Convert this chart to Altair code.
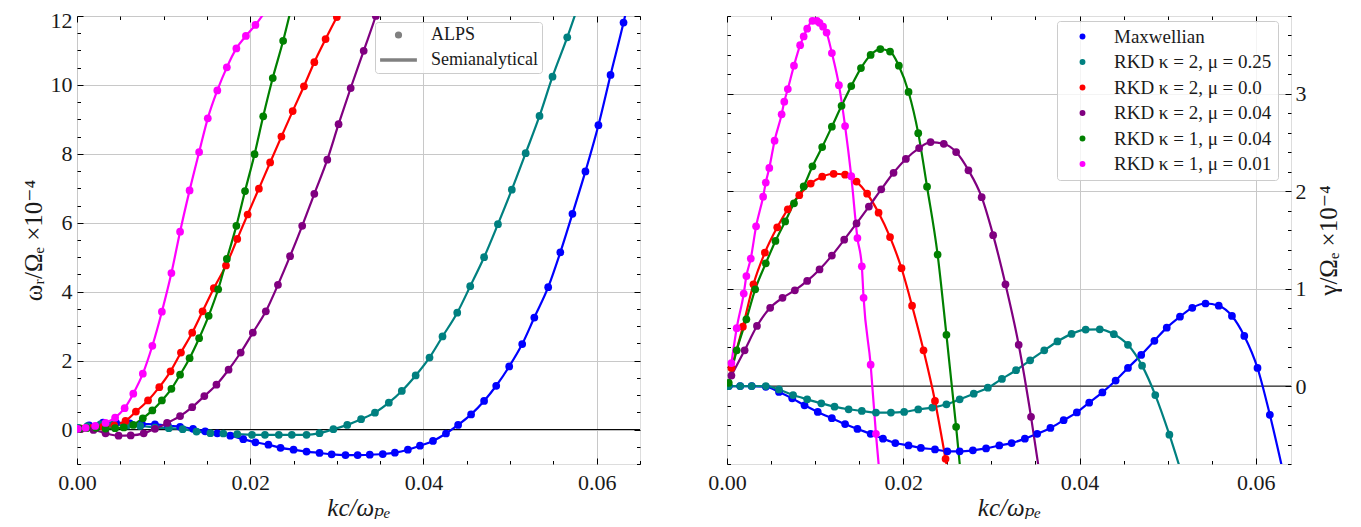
import altair as alt
import pandas as pd

SERIES = ["Maxwellian", "RKD κ = 2, μ = 0.25", "RKD κ = 2, μ = 0.0",
          "RKD κ = 2, μ = 0.04", "RKD κ = 1, μ = 0.04", "RKD κ = 1, μ = 0.01"]
COLORS = ["#0000ff", "#008080", "#ff0000", "#800080", "#008000", "#ff00ff"]
LEGEND_KINDS = ["ALPS", "Semianalytical"]

# ---------------- left panel: omega_r / Omega_e (x 1e-4) ----------------
W_K_MAX = [0.0001, 0.0014, 0.0030, 0.0045, 0.0061, 0.0075, 0.0090, 0.0105, 0.0119, 0.0134,
           0.0148, 0.0162, 0.0177, 0.0192, 0.0206, 0.0221, 0.0235, 0.0250, 0.0265, 0.0280,
           0.0294, 0.0310, 0.0324, 0.0338, 0.0353, 0.0367, 0.0382, 0.0396, 0.0411, 0.0426,
           0.0440, 0.0455, 0.0470, 0.0484, 0.0499, 0.0514, 0.0528, 0.0544, 0.0558, 0.0572,
           0.0587, 0.0602, 0.0616, 0.0631, 0.0645]
W_MAX = [0.02, 0.12, 0.20, 0.20, 0.18, 0.16, 0.15, 0.11, 0.08, 0.02,
         -0.05, -0.11, -0.18, -0.28, -0.37, -0.44, -0.53, -0.585, -0.64, -0.68,
         -0.72, -0.74, -0.74, -0.73, -0.71, -0.67, -0.585, -0.47, -0.33, -0.115,
         0.135, 0.44, 0.83, 1.27, 1.83, 2.48, 3.25, 4.13, 5.14, 6.26,
         7.49, 8.83, 10.29, 11.81, 13.4]

W_K_T = [0.0002, 0.0012, 0.0027, 0.0042, 0.0058, 0.0073, 0.0090, 0.0106, 0.0122, 0.0138,
         0.0154, 0.0169, 0.0185, 0.0202, 0.0217, 0.0233, 0.0248, 0.0265, 0.0280, 0.0296,
         0.0312, 0.0328, 0.0344, 0.0360, 0.0375, 0.0391, 0.0407, 0.0422, 0.0439, 0.0454,
         0.0470, 0.0486, 0.0502, 0.0518, 0.0534, 0.0549, 0.0566, 0.0582]
W_T = [0.05, 0.10, 0.15, 0.14, 0.12, 0.105, 0.058, 0.038, 0.01, -0.058,
       -0.105, -0.115, -0.134, -0.153, -0.153, -0.153, -0.153, -0.153, -0.105, 0.01,
       0.135, 0.30, 0.49, 0.78, 1.12, 1.57, 2.09, 2.70, 3.39, 4.16,
       5.00, 5.96, 6.96, 8.02, 9.10, 10.24, 11.38, 12.55]

W_K_R = [0.0005, 0.0018, 0.0030, 0.0043, 0.0056, 0.0068, 0.0082, 0.0095, 0.0108, 0.0120,
         0.0133, 0.0145, 0.0158, 0.0172, 0.0185, 0.0197, 0.0210, 0.0223, 0.0236, 0.0249,
         0.0262, 0.0274, 0.0287, 0.0300, 0.0313]
W_R = [0.03, 0.05, 0.08, 0.12, 0.25, 0.52, 0.845, 1.23, 1.69, 2.235,
       2.81, 3.43, 4.10, 4.76, 5.53, 6.24, 6.99, 7.75, 8.50, 9.24,
       9.96, 10.66, 11.33, 11.97, 12.6]

W_K_P = [0.0004, 0.0019, 0.0033, 0.0048, 0.0062, 0.0077, 0.0090, 0.0104, 0.0119, 0.0133,
         0.0147, 0.0161, 0.0175, 0.0189, 0.0203, 0.0218, 0.0232, 0.0246, 0.0260, 0.0274,
         0.0289, 0.0302, 0.0316, 0.0331, 0.0345, 0.0359]
W_P = [0.01, -0.01, -0.11, -0.18, -0.17, -0.11, 0.02, 0.19, 0.39, 0.65,
       0.97, 1.30, 1.735, 2.235, 2.81, 3.43, 4.20, 5.03, 5.91, 6.84,
       7.83, 8.86, 9.91, 10.99, 12.0, 13.1]

W_K_G = [0.0003, 0.0011, 0.0022, 0.0033, 0.0044, 0.0054, 0.0065, 0.0076, 0.0087, 0.0098,
         0.0109, 0.0119, 0.0130, 0.0141, 0.0152, 0.0163, 0.0173, 0.0184, 0.0194, 0.0205,
         0.0215, 0.0226, 0.0238, 0.0248]
W_G = [0.02, 0.04, 0.05, 0.03, 0.04, 0.06, 0.135, 0.325, 0.555, 0.845,
       1.18, 1.59, 2.07, 2.65, 3.30, 4.07, 4.95, 5.91, 6.92, 7.99,
       9.09, 10.2, 11.28, 12.3]

W_K_M = [0.0001, 0.0010, 0.0021, 0.0033, 0.0044, 0.0055, 0.0065, 0.0076, 0.0087, 0.0098,
         0.0109, 0.0119, 0.0130, 0.0141, 0.0151, 0.0162, 0.0173, 0.0184, 0.0195, 0.0206,
         0.0227]
W_M = [0.02, 0.05, 0.106, 0.19, 0.345, 0.62, 1.04, 1.62, 2.43, 3.42,
       4.54, 5.74, 6.94, 8.05, 9.03, 9.84, 10.51, 11.06, 11.42, 11.74,
       12.5]

# ---------------- right panel: gamma / Omega_e (x 1e-4) ----------------
G_K_MAX = [0.0002, 0.0015, 0.0028, 0.0044, 0.0059, 0.0074, 0.0088, 0.0103, 0.0119, 0.0134,
           0.0148, 0.0163, 0.0177, 0.0191, 0.0206, 0.0220, 0.0236, 0.0250, 0.0264, 0.0279,
           0.0294, 0.0309, 0.0323, 0.0338, 0.0352, 0.0367, 0.0382, 0.0397, 0.0411, 0.0426,
           0.0441, 0.0455, 0.0470, 0.0485, 0.0499, 0.0514, 0.0528, 0.0543, 0.0558, 0.0573,
           0.0587, 0.0602, 0.0616, 0.0631]
G_MAX = [0.0, 0.0, 0.0, -0.007, -0.06, -0.126, -0.197, -0.265, -0.33, -0.39,
         -0.44, -0.49, -0.54, -0.585, -0.61, -0.635, -0.65, -0.67, -0.67, -0.66,
         -0.64, -0.61, -0.585, -0.54, -0.49, -0.43, -0.35, -0.27, -0.17, -0.065,
         0.057, 0.186, 0.32, 0.465, 0.60, 0.713, 0.804, 0.848, 0.825, 0.72,
         0.515, 0.186, -0.295, -0.88]

G_K_T = [0.0002, 0.0015, 0.0028, 0.0044, 0.0059, 0.0075, 0.0091, 0.0107, 0.0122, 0.0138,
         0.0153, 0.0169, 0.0186, 0.0201, 0.0217, 0.0233, 0.0249, 0.0264, 0.0280, 0.0296,
         0.0312, 0.0328, 0.0344, 0.0360, 0.0375, 0.0391, 0.0407, 0.0423, 0.0439, 0.0455,
         0.0471, 0.0486, 0.0502, 0.0516]
G_T = [0.0, 0.0, 0.0, 0.0, -0.035, -0.092, -0.136, -0.177, -0.211, -0.238,
       -0.255, -0.272, -0.272, -0.265, -0.24, -0.221, -0.187, -0.136, -0.078, -0.017,
       0.074, 0.163, 0.265, 0.367, 0.458, 0.536, 0.58, 0.583, 0.533, 0.424,
       0.21, -0.092, -0.499, -0.9]

G_K_R = [0.0005, 0.0018, 0.0030, 0.0043, 0.0057, 0.0069, 0.0082, 0.0095, 0.0108, 0.0121,
         0.0134, 0.0147, 0.0159, 0.0172, 0.0185, 0.0198, 0.0210, 0.0223, 0.0236, 0.0248,
         0.0261]
G_R = [0.186, 0.61, 1.045, 1.37, 1.63, 1.815, 1.96, 2.08, 2.15, 2.18,
       2.17, 2.10, 1.975, 1.78, 1.53, 1.21, 0.825, 0.367, -0.153, -0.747,
       -1.4]

G_K_P = [0.0005, 0.0020, 0.0034, 0.0049, 0.0063, 0.0077, 0.0091, 0.0105, 0.0119, 0.0133,
         0.0147, 0.0161, 0.0175, 0.0189, 0.0203, 0.0218, 0.0231, 0.0246, 0.0260, 0.0274,
         0.0289, 0.0302, 0.0316, 0.0331, 0.0345, 0.0358]
G_P = [0.108, 0.367, 0.617, 0.804, 0.906, 0.984, 1.08, 1.198, 1.34, 1.503,
       1.67, 1.843, 2.02, 2.19, 2.332, 2.444, 2.505, 2.488, 2.403, 2.216,
       1.94, 1.55, 1.045, 0.424, -0.316, -1.1]

G_K_G = [0.0002, 0.0011, 0.0022, 0.0032, 0.0044, 0.0055, 0.0066, 0.0076, 0.0087, 0.0097,
         0.0108, 0.0119, 0.0130, 0.0141, 0.0152, 0.0163, 0.0174, 0.0185, 0.0195, 0.0206,
         0.0217, 0.0227, 0.0239, 0.0249, 0.0260, 0.0270]
G_G = [0.034, 0.367, 0.685, 0.994, 1.26, 1.49, 1.69, 1.877, 2.05, 2.257,
       2.454, 2.664, 2.878, 3.08, 3.265, 3.40, 3.46, 3.435, 3.29, 3.02,
       2.597, 2.047, 1.35, 0.526, -0.418, -1.35]

G_K_M = [0.0005, 0.0011, 0.0019, 0.0022, 0.0027, 0.0033, 0.0041, 0.0044, 0.0048, 0.0054,
         0.0062, 0.0065, 0.0069, 0.0076, 0.0083, 0.0087, 0.0091, 0.0097, 0.0102, 0.0105,
         0.0109, 0.0113, 0.0119, 0.0127, 0.0134, 0.0141, 0.0148, 0.0153, 0.0155, 0.0163,
         0.0169, 0.0175]
G_M = [0.237, 0.594, 0.95, 1.13, 1.31, 1.64, 1.945, 2.09, 2.24, 2.52,
       2.79, 2.92, 3.05, 3.29, 3.50, 3.59, 3.67, 3.75, 3.75, 3.73,
       3.69, 3.63, 3.42, 3.09, 2.67, 2.155, 1.52, 1.23, 0.906, 0.22,
       -0.49, -1.1]

# axis domains and tick values
XL_DOMAIN = [0, 0.065]
YL_DOMAIN = [-1, 12]
XR_DOMAIN = [0, 0.064]
YR_DOMAIN = [-0.8, 3.8]
X_MAJOR = [0.0, 0.02, 0.04, 0.06]
X_MINOR = [0.005, 0.01, 0.015, 0.025, 0.03, 0.035, 0.045, 0.05, 0.055, 0.065]
YL_MAJOR = [0, 2, 4, 6, 8, 10, 12]
YL_MINOR = [-1, -0.5, 0.5, 1, 1.5, 2.5, 3, 3.5, 4.5, 5, 5.5, 6.5, 7, 7.5, 8.5, 9, 9.5,
            10.5, 11, 11.5]
YR_MAJOR = [0, 1, 2, 3]
YR_MINOR = [-0.8, -0.6, -0.4, -0.2, 0.2, 0.4, 0.6, 0.8, 1.2, 1.4, 1.6, 1.8, 2.2, 2.4,
            2.6, 2.8, 3.2, 3.4, 3.6, 3.8]


def frame(groups):
    rows = []
    for name, ks, vs in groups:
        for k, v in zip(ks, vs):
            rows.append({"series": name, "k": k, "v": v})
    return pd.DataFrame(rows)


left_df = frame([(SERIES[0], W_K_MAX, W_MAX), (SERIES[1], W_K_T, W_T), (SERIES[2], W_K_R, W_R),
                 (SERIES[3], W_K_P, W_P), (SERIES[4], W_K_G, W_G), (SERIES[5], W_K_M, W_M)])
right_df = frame([(SERIES[0], G_K_MAX, G_MAX), (SERIES[1], G_K_T, G_T), (SERIES[2], G_K_R, G_R),
                  (SERIES[3], G_K_P, G_P), (SERIES[4], G_K_G, G_G), (SERIES[5], G_K_M, G_M)])

FONT = "Liberation Serif, DejaVu Serif, serif"
TXT = "#1a1a1a"
GRID = "#c8c8c8"
MAJ, MIN = 6, 3.5
H = 448

anchor = pd.DataFrame({"k": [0.0], "v": [0.0]})


def tick_layer(channel, orient, values, length, xs, ys):
    ax = alt.Axis(orient=orient, values=values, tickSize=length, offset=-length, ticks=True,
                  labels=False, domain=False, grid=False, title=None, tickColor="black",
                  tickWidth=1)
    if channel == "x":
        enc = {"x": alt.X("k:Q", scale=xs, axis=ax), "y": alt.Y("v:Q", scale=ys, axis=None)}
    else:
        enc = {"x": alt.X("k:Q", scale=xs, axis=None), "y": alt.Y("v:Q", scale=ys, axis=ax)}
    return alt.Chart(anchor).mark_point(opacity=0).encode(**enc)


def panel(df, xdom, ydom, y_major, y_minor, y_orient, y_title, y_label_pad, y_title_pad,
          legend, extra, width):
    xs = alt.Scale(domain=xdom, nice=False, zero=False)
    ys = alt.Scale(domain=ydom, nice=False, zero=False)
    xaxis = alt.Axis(orient="bottom", values=X_MAJOR, format=".2f", ticks=False, tickSize=0,
                     domain=False, grid=True, gridColor=GRID, gridWidth=1, labelFlush=False,
                     labelFont=FONT, labelFontSize=22, labelColor=TXT, labelPadding=8,
                     title="kc/ωₚₑ", titleFont=FONT, titleFontSize=25, titleFontStyle="italic",
                     titleFontWeight="normal", titleColor=TXT, titlePadding=2)
    ykw = dict(orient=y_orient, values=y_major, format="d", ticks=False, tickSize=0,
               domain=False, grid=True, gridColor=GRID, gridWidth=1,
               labelFlush=True, labelFlushOffset=6,
               labelFont=FONT, labelFontSize=22, labelColor=TXT, labelPadding=y_label_pad,
               title=y_title, titleFont=FONT, titleFontSize=25, titleFontWeight="normal",
               titleColor=TXT, titlePadding=y_title_pad, titleAngle=270)
    if y_orient == "right":
        ykw["titleBaseline"] = "top"
    yaxis = alt.Axis(**ykw)

    zero = alt.Chart(anchor).mark_rule(color="black", strokeWidth=1).encode(
        x=alt.XDatum(xdom[0], scale=xs, axis=None),
        x2=alt.X2Datum(xdom[1]),
        y=alt.YDatum(0, scale=ys, axis=None))
    # one line layer per series (constant colour), the first one carries the labelled axes
    lines = []
    for i, (name, col) in enumerate(zip(SERIES, COLORS)):
        sub = df[df["series"] == name]
        lines.append(alt.Chart(sub).mark_line(
            color=col, strokeWidth=2.2, interpolate="monotone", clip=True).encode(
            x=alt.X("k:Q", scale=xs, axis=xaxis if i == 0 else None),
            y=alt.Y("v:Q", scale=ys, axis=yaxis if i == 0 else None),
        ))
    pts = alt.Chart(df).mark_circle(size=60, opacity=1, clip=True).encode(
        x=alt.X("k:Q", scale=xs, axis=None),
        y=alt.Y("v:Q", scale=ys, axis=None),
        color=alt.Color("series:N", scale=alt.Scale(domain=SERIES, range=COLORS),
                        legend=legend),
    )
    ticks = [
        tick_layer("x", "bottom", X_MAJOR, MAJ, xs, ys), tick_layer("x", "top", X_MAJOR, MAJ, xs, ys),
        tick_layer("x", "bottom", X_MINOR, MIN, xs, ys), tick_layer("x", "top", X_MINOR, MIN, xs, ys),
        tick_layer("y", "left", y_major, MAJ, xs, ys), tick_layer("y", "right", y_major, MAJ, xs, ys),
        tick_layer("y", "left", y_minor, MIN, xs, ys), tick_layer("y", "right", y_minor, MIN, xs, ys),
    ]
    extra_layers = [f(xs, ys) for f in extra]
    return alt.layer(zero, *lines, pts, *ticks, *extra_layers).resolve_axis(
        x="independent", y="independent").properties(width=width, height=H)


# ---- left panel legend (ALPS / Semianalytical) ----
CIRCLE = "M -0.45,0 A 0.45,0.45 0 1,1 0.45,0 A 0.45,0.45 0 1,1 -0.45,0 Z"
DASH = "M -4.6,0 L 4.6,0"
leg_df = pd.DataFrame({"kind": LEGEND_KINDS, "k": [0.0, 0.0], "v": [0.0, 0.0]})


def kind_layer(xs, ys):
    return alt.Chart(leg_df).mark_point(filled=False, color="#808080", opacity=0,
                                        strokeWidth=3.6).encode(
        x=alt.X("k:Q", scale=xs, axis=None),
        y=alt.Y("v:Q", scale=ys, axis=None),
        shape=alt.Shape("kind:N", scale=alt.Scale(domain=LEGEND_KINDS, range=[CIRCLE, DASH]),
                        legend=alt.Legend(title=None, orient="none", legendX=298, legendY=6,
                                          symbolSize=64, symbolStrokeWidth=3.6,
                                          symbolStrokeColor="#808080", symbolOpacity=1,
                                          labelFont=FONT, labelFontSize=18, labelColor=TXT,
                                          padding=4, symbolOffset=10.5, labelOffset=23.5,
                                          rowPadding=7, strokeColor="#cccccc",
                                          fillColor="rgba(255,255,255,0.8)", cornerRadius=3))
    )


right_legend = alt.Legend(title=None, orient="none", legendX=330, legendY=5,
                          symbolType="circle", symbolSize=35, symbolStrokeWidth=0,
                          symbolOpacity=1,
                          labelFont=FONT, labelFontSize=19, labelColor=TXT, labelLimit=400,
                          padding=6, symbolOffset=10, labelOffset=22, rowPadding=5.5,
                          strokeColor="#cccccc", fillColor="rgba(255,255,255,0.8)",
                          cornerRadius=3)

left = panel(left_df, XL_DOMAIN, YL_DOMAIN, YL_MAJOR, YL_MINOR, "left", "ωᵣ/Ωₑ ×10⁻⁴", 5, 4,
             None, [kind_layer], 563)
right = panel(right_df, XR_DOMAIN, YR_DOMAIN, YR_MAJOR, YR_MINOR, "right", "γ/Ωₑ ×10⁻⁴", 4, 10,
              right_legend, [], 564)

chart = alt.hconcat(left, right, spacing=66).resolve_scale(
    color="independent", shape="independent"
).properties(
    padding={"left": 12, "top": 0, "right": 0, "bottom": 0}
).configure_view(stroke="black", strokeWidth=1).configure(background="white")

chart.save("out.html", embed_options={"renderer": "svg", "actions": False})
